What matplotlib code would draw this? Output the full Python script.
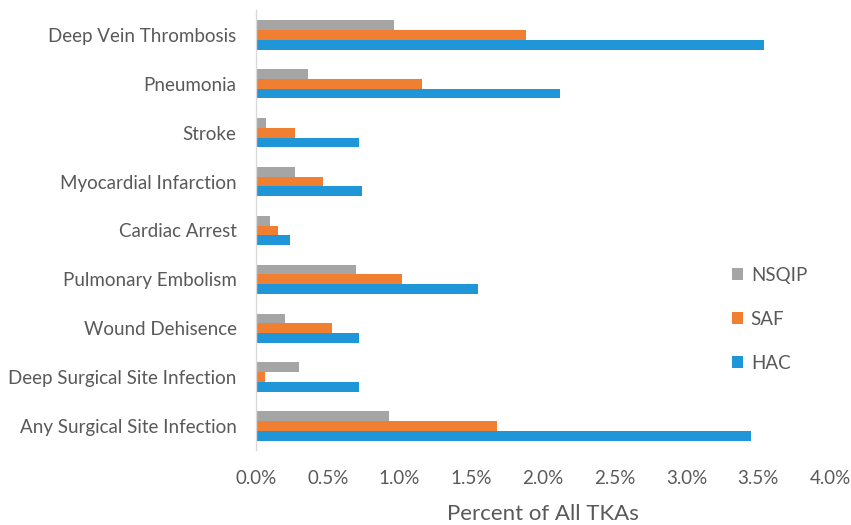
import matplotlib
matplotlib.use("Agg")
import matplotlib.pyplot as plt
import numpy as np
from matplotlib.ticker import FuncFormatter

categories = [
    "Deep Vein Thrombosis",
    "Pneumonia",
    "Stroke",
    "Myocardial Infarction",
    "Cardiac Arrest",
    "Pulmonary Embolism",
    "Wound Dehisence",
    "Deep Surgical Site Infection",
    "Any Surgical Site Infection",
]
nsqip = [0.96, 0.36, 0.07, 0.27, 0.10, 0.70, 0.20, 0.30, 0.93]
saf = [1.88, 1.16, 0.27, 0.47, 0.15, 1.02, 0.53, 0.06, 1.68]
hac = [3.54, 2.12, 0.72, 0.74, 0.24, 1.55, 0.72, 0.72, 3.45]
x_ticks = [0.0, 0.5, 1.0, 1.5, 2.0, 2.5, 3.0, 3.5, 4.0]

plt.rcParams["font.family"] = ["Lato", "DejaVu Sans"]
text_color = "#595959"

fig = plt.figure(figsize=(8.51, 5.25), dpi=100)
ax = fig.add_axes([0.3008, 0.142, 0.6745, 0.838])

y = np.arange(len(categories))
h = 0.2
ax.barh(y - h, nsqip, height=h, color="#A5A5A5", label="NSQIP")
ax.barh(y, saf, height=h, color="#F07F32", label="SAF")
ax.barh(y + h, hac, height=h, color="#1F96D7", label="HAC")

ax.set_ylim(len(categories) - 0.5, -0.5)
ax.set_xlim(0, 4.0)
ax.set_yticks(y)
ax.set_yticklabels(categories)
ax.set_xticks(x_ticks)
ax.xaxis.set_major_formatter(FuncFormatter(lambda v, p: f"{v:.1f}%"))

ax.tick_params(axis="y", length=0, pad=14, labelsize=13.5, labelcolor=text_color)
ax.tick_params(axis="x", length=0, pad=14, labelsize=13.5, labelcolor=text_color)
for s in ["top", "right", "bottom"]:
    ax.spines[s].set_visible(False)
ax.spines["left"].set_color("#D9D9D9")
ax.spines["left"].set_linewidth(1.0)

ax.set_xlabel("Percent of All TKAs", fontsize=16, color=text_color, labelpad=12)

leg = ax.legend(loc="center left", bbox_to_anchor=(0.80, 0.298), frameon=False,
                fontsize=13.5, handlelength=0.6, handleheight=0.6,
                handletextpad=0.4, labelspacing=1.45)
for t in leg.get_texts():
    t.set_color(text_color)

fig.savefig("out.png", dpi=100)
